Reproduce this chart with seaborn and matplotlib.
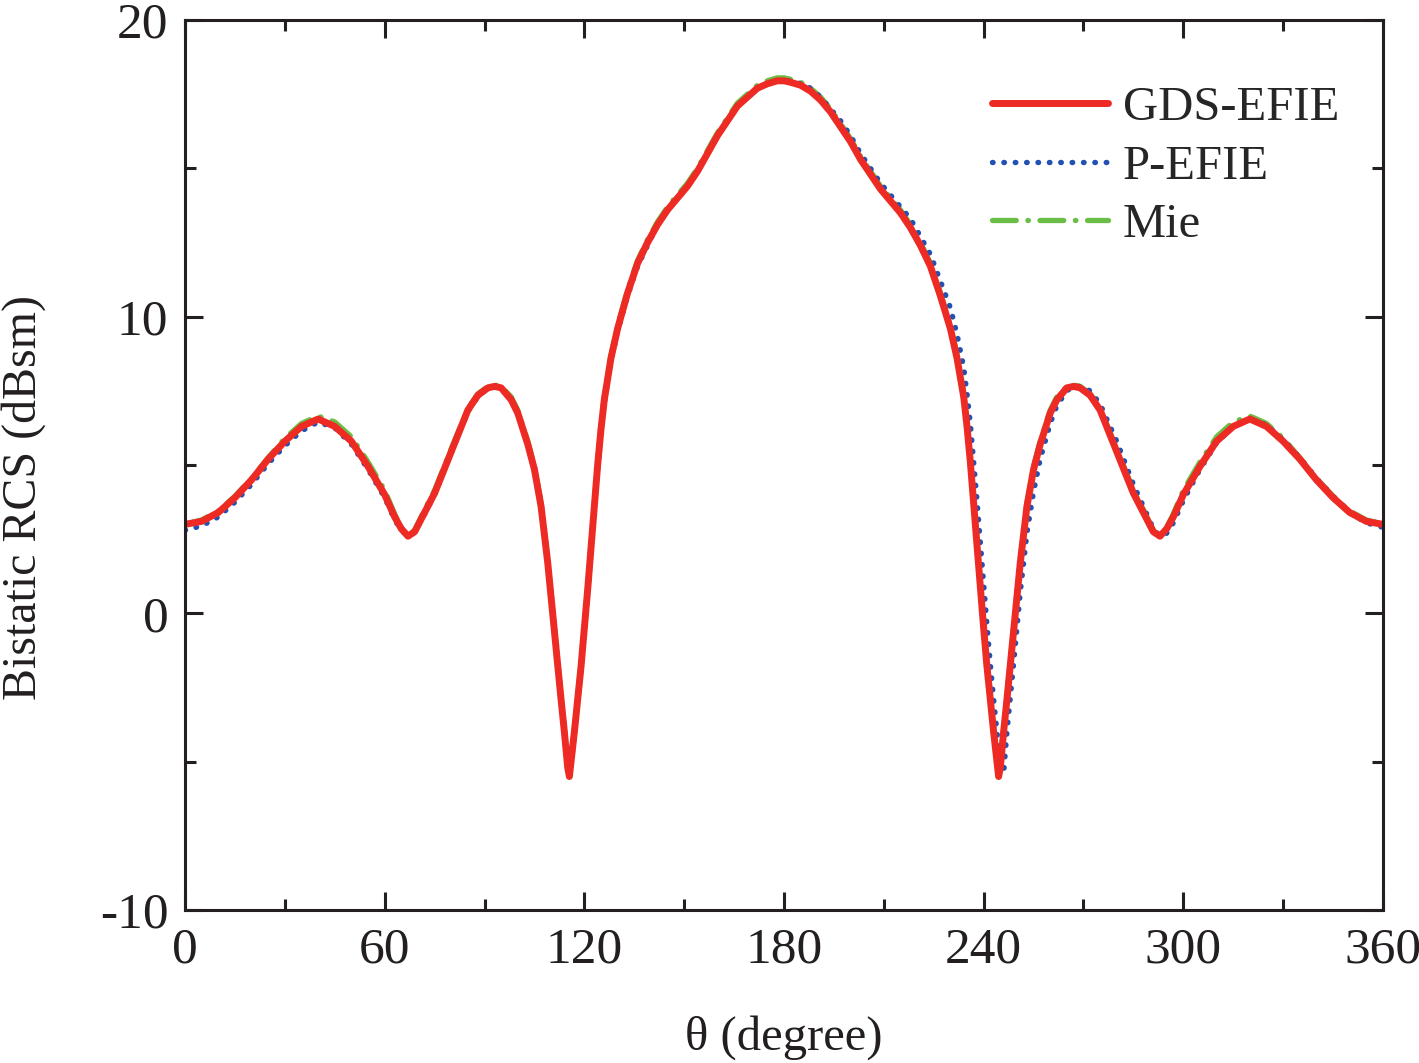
import numpy as np
import pandas as pd
import seaborn as sns
import matplotlib.pyplot as plt
from matplotlib.lines import Line2D

# theta grid (degree)
theta = [0, 5, 10, 15, 20, 25, 30, 35, 40, 45, 50, 55, 60, 63, 65, 67, 69, 72, 75, 80,
         85, 88, 91, 93, 95, 98, 100, 103, 105, 107, 109, 111, 113, 114, 115, 115.5, 116, 117, 118, 119,
         120, 121, 122, 123, 124, 125, 126, 128, 130, 133, 136, 139, 142, 145, 148, 151, 154, 157, 160, 163,
         166, 169, 172, 175, 178, 180, 182, 185, 188, 191, 194, 197, 200, 203, 206, 209, 212, 215, 218, 221,
         224, 227, 230, 232, 234, 235, 236, 237, 238, 239, 240, 241, 242, 243, 244, 244.5, 245, 246, 247, 249,
         251, 253, 255, 257, 260, 262, 265, 267, 269, 272, 275, 280, 285, 288, 291, 293, 295, 297, 300, 305,
         310, 315, 320, 325, 330, 335, 340, 345, 350, 355, 360]

# Bistatic RCS (dBsm)
rcs_gds = [3.0, 3.1, 3.4, 3.9, 4.5, 5.2, 5.8, 6.3, 6.55, 6.3, 5.8, 4.95, 4.0, 3.25, 2.85, 2.6, 2.75, 3.4, 4.05, 5.45,
           6.85, 7.35, 7.6, 7.65, 7.6, 7.2, 6.75, 5.7, 4.85, 3.6, 1.7, -0.6, -2.9, -4.0, -5.2, -5.5, -5.0, -4.0, -2.9, -1.8,
           -0.5, 0.8, 2.2, 3.6, 5.0, 6.2, 7.2, 8.6, 9.6, 10.8, 11.8, 12.5, 13.1, 13.6, 14.0, 14.4, 14.9, 15.5, 16.1, 16.6,
           17.1, 17.4, 17.7, 17.85, 17.95, 17.95, 17.9, 17.8, 17.6, 17.3, 16.9, 16.4, 15.9, 15.3, 14.8, 14.3, 13.9, 13.5, 13.0, 12.4,
           11.7, 10.7, 9.6, 8.6, 7.3, 6.3, 5.1, 3.7, 2.3, 0.9, -0.5, -1.8, -2.9, -4.0, -5.0, -5.5, -5.2, -4.0, -2.9, -0.6,
           1.7, 3.6, 4.85, 5.7, 6.75, 7.2, 7.6, 7.65, 7.6, 7.35, 6.85, 5.45, 4.05, 3.4, 2.75, 2.6, 2.85, 3.25, 4.0, 4.95,
           5.8, 6.3, 6.55, 6.3, 5.8, 5.2, 4.5, 3.9, 3.4, 3.1, 3.0]

rcs_pefie = [2.8, 2.95, 3.25, 3.75, 4.35, 5.05, 5.65, 6.15, 6.45, 6.25, 5.7, 4.85, 3.9, 3.15, 2.8, 2.6, 2.75, 3.35, 4.0, 5.4,
             6.8, 7.3, 7.6, 7.65, 7.6, 7.25, 6.8, 5.75, 4.9, 3.7, 1.8, -0.5, -2.8, -3.9, -5.1, -5.5, -5.1, -4.1, -3.0, -1.9,
             -0.6, 0.7, 2.1, 3.5, 4.9, 6.1, 7.1, 8.5, 9.5, 10.7, 11.7, 12.4, 13.1, 13.6, 14.0, 14.4, 14.9, 15.5, 16.1, 16.6,
             17.1, 17.4, 17.7, 17.85, 17.95, 17.95, 17.95, 17.85, 17.7, 17.4, 17.0, 16.6, 16.1, 15.5, 15.0, 14.5, 14.1, 13.7, 13.3, 12.7,
             12.1, 11.2, 10.3, 9.4, 8.3, 7.4, 6.4, 5.1, 3.8, 2.4, 1.0, -0.4, -1.7, -2.9, -4.0, -4.6, -5.2, -5.4, -4.0, -1.7,
             0.7, 2.7, 4.1, 5.2, 6.4, 7.0, 7.5, 7.65, 7.65, 7.5, 7.05, 5.8, 4.35, 3.6, 2.85, 2.6, 2.7, 3.05, 3.8, 4.85,
             5.75, 6.3, 6.55, 6.35, 5.85, 5.25, 4.55, 3.95, 3.4, 3.05, 2.9]

rcs_mie = [3.0, 3.15, 3.45, 3.95, 4.55, 5.25, 5.9, 6.4, 6.65, 6.45, 5.95, 5.1, 4.15, 3.35, 2.9, 2.6, 2.8, 3.5, 4.15, 5.55,
           6.9, 7.4, 7.65, 7.7, 7.65, 7.3, 6.85, 5.8, 4.95, 3.7, 1.8, -0.5, -2.8, -3.9, -5.1, -5.5, -5.0, -3.9, -2.8, -1.7,
           -0.4, 0.9, 2.3, 3.7, 5.1, 6.3, 7.3, 8.7, 9.7, 10.9, 11.9, 12.6, 13.2, 13.7, 14.1, 14.5, 15.0, 15.6, 16.2, 16.7,
           17.2, 17.5, 17.8, 17.95, 18.05, 18.05, 18.0, 17.9, 17.7, 17.4, 17.0, 16.5, 16.0, 15.4, 14.9, 14.4, 14.0, 13.6, 13.1, 12.5,
           11.8, 10.8, 9.7, 8.7, 7.4, 6.4, 5.2, 3.8, 2.4, 1.0, -0.4, -1.7, -2.8, -3.9, -4.9, -5.5, -5.1, -3.9, -2.8, -0.5,
           1.8, 3.7, 4.95, 5.8, 6.85, 7.3, 7.65, 7.7, 7.65, 7.4, 6.9, 5.55, 4.15, 3.5, 2.8, 2.6, 2.9, 3.35, 4.15, 5.1,
           5.95, 6.45, 6.65, 6.4, 5.9, 5.25, 4.55, 3.95, 3.45, 3.15, 3.0]

df = pd.DataFrame({"theta": theta, "GDS-EFIE": rcs_gds, "P-EFIE": rcs_pefie, "Mie": rcs_mie})

sns.set_style("ticks")
plt.rcParams["font.family"] = ["Liberation Serif", "DejaVu Serif"]
plt.rcParams["axes.unicode_minus"] = False

red = "#EE2A24"
blue = "#2152B3"
green = "#6BBE45"
ink = "#231F20"

mie_style = (0, (4.5, 2.2, 0.1, 2.2))
dot_style = (0, (0.1, 2.0))

fig = plt.figure(figsize=(14.19, 10.63), dpi=100)
ax = fig.add_axes([0.1304, 0.1439, 0.8442, 0.8373])

sns.lineplot(data=df, x="theta", y="Mie", ax=ax, color=green, lw=3.8,
             linestyle=mie_style, dash_capstyle="round")
sns.lineplot(data=df, x="theta", y="P-EFIE", ax=ax, color=blue, lw=3.9,
             linestyle=dot_style, dash_capstyle="round")
sns.lineplot(data=df, x="theta", y="GDS-EFIE", ax=ax, color=red, lw=5.0, solid_capstyle="round")

ax.set_xlim(0, 360)
ax.set_ylim(-10, 20)
ax.set_xticks(np.arange(0, 361, 60))
ax.set_xticks(np.arange(30, 360, 60), minor=True)
ax.set_yticks([-10, 0, 10, 20])
ax.set_yticks([-5, 5, 15], minor=True)
ax.tick_params(which="both", direction="in", top=True, right=True, width=2.2, colors=ink,
               labelsize=37, labelcolor=ink)
ax.tick_params(which="major", length=13, pad=12)
ax.tick_params(which="minor", length=8)
for s in ax.spines.values():
    s.set_linewidth(2.2)
    s.set_color(ink)

ax.set_xlabel("θ (degree)", fontsize=35, color=ink)
ax.set_ylabel("Bistatic RCS (dBsm)", fontsize=34.5, color=ink)
ax.xaxis.set_label_coords(0.5, -0.118)
ax.yaxis.set_label_coords(-0.116, 0.464)

handles = [
    Line2D([], [], color=red, lw=5.0, solid_capstyle="round"),
    Line2D([], [], color=blue, lw=3.9, linestyle=dot_style, dash_capstyle="round"),
    Line2D([], [], color=green, lw=3.8, linestyle=mie_style, dash_capstyle="round"),
]
ax.legend(handles, ["GDS-EFIE", "P-EFIE", "Mie"], loc="upper right", bbox_to_anchor=(1.0, 0.975),
          frameon=False, fontsize=35, handlelength=2.4, handletextpad=0.3, labelspacing=0.3)

fig.savefig("out.png", dpi=100)
